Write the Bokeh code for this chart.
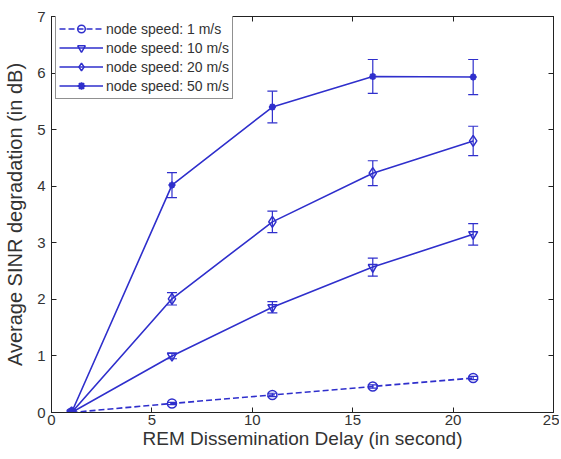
from bokeh.plotting import figure
from bokeh.models import Whisker, TeeHead, ColumnDataSource, LinearAxis, Range1d, FixedTicker, Legend, LegendItem
from bokeh.embed import file_html
from bokeh.resources import INLINE

delay = [1, 6, 11, 16, 21]
series_names = ["node speed: 1 m/s", "node speed: 10 m/s", "node speed: 20 m/s", "node speed: 50 m/s"]
speed1 = [0.0, 0.16, 0.31, 0.46, 0.61]
speed1_err = [0.0, 0.02, 0.03, 0.03, 0.03]
speed10 = [0.0, 1.00, 1.86, 2.57, 3.15]
speed10_err = [0.0, 0.05, 0.10, 0.16, 0.19]
speed20 = [0.0, 2.01, 3.37, 4.23, 4.80]
speed20_err = [0.0, 0.11, 0.19, 0.22, 0.26]
speed50 = [0.0, 4.02, 5.40, 5.94, 5.93]
speed50_err = [0.0, 0.22, 0.28, 0.30, 0.31]
x_ticks = [0, 5, 10, 15, 20, 25]
y_ticks = [0, 1, 2, 3, 4, 5, 6, 7]

BLUE = "#2f2fcc"
FONT = "Liberation Sans"
TXT = "#333333"

p = figure(width=559, height=457, output_backend="svg", toolbar_location=None,
           x_range=Range1d(0, 25), y_range=Range1d(0, 7),
           min_border_left=51, min_border_right=6, min_border_top=16, min_border_bottom=45)
p.background_fill_color = "white"
p.border_fill_color = "white"
p.grid.visible = False
p.outline_line_color = "#222222"
p.outline_line_width = 1

def style_axis(ax):
    ax.major_tick_in = 5
    ax.major_tick_out = 0
    ax.minor_tick_in = 0
    ax.minor_tick_out = 0
    ax.axis_line_color = "#222222"
    ax.major_tick_line_color = "#222222"
    ax.major_label_text_font = FONT
    ax.major_label_text_font_size = "15px"
    ax.major_label_text_color = TXT
    ax.axis_label_text_font = FONT
    ax.axis_label_text_font_style = "normal"
    ax.axis_label_text_color = TXT

p.xaxis.ticker = FixedTicker(ticks=x_ticks)
p.yaxis.ticker = FixedTicker(ticks=y_ticks)
p.xaxis.axis_label = "REM Dissemination Delay (in second)"
p.yaxis.axis_label = "Average SINR degradation (in dB)"
style_axis(p.xaxis[0])
style_axis(p.yaxis[0])
p.xaxis.axis_label_text_font_size = "19px"
p.yaxis.axis_label_text_font_size = "20px"
p.xaxis.major_label_standoff = 2
p.xaxis.axis_label_standoff = 0
p.yaxis.major_label_standoff = 6
p.yaxis.axis_label_standoff = 8

top = LinearAxis(ticker=FixedTicker(ticks=x_ticks), major_label_overrides={t: "" for t in x_ticks})
style_axis(top)
top.major_label_standoff = 0
p.add_layout(top, "above")
right = LinearAxis(ticker=FixedTicker(ticks=y_ticks), major_label_overrides={t: "" for t in y_ticks})
style_axis(right)
right.major_label_standoff = 0
p.add_layout(right, "right")

items = []
specs = [
    (speed1, speed1_err, "circle", 9, "6 3"),
    (speed10, speed10_err, "inverted_triangle", 9, "solid"),
    (speed20, speed20_err, "diamond", 11, "solid"),
    (speed50, speed50_err, "asterisk", 7, "solid"),
]
for name, (vals, errs, marker, size, dash) in zip(series_names, specs):
    src = ColumnDataSource(dict(x=delay, y=vals,
                                lo=[v - e for v, e in zip(vals, errs)],
                                hi=[v + e for v, e in zip(vals, errs)]))
    w = Whisker(source=src, base="x", lower="lo", upper="hi", line_color=BLUE, line_width=1.2,
                upper_head=TeeHead(size=10, line_color=BLUE, line_width=1.2),
                lower_head=TeeHead(size=10, line_color=BLUE, line_width=1.2))
    p.add_layout(w)
    r1 = p.line("x", "y", source=src, line_color=BLUE, line_width=1.6, line_dash=dash)
    if marker == "asterisk":
        r2 = p.scatter("x", "y", source=src, marker="asterisk", size=size, line_color=BLUE, line_width=2)
    else:
        r2 = p.scatter("x", "y", source=src, marker=marker, size=size, line_color=BLUE,
                       fill_color=None, line_width=1.5)
    items.append(LegendItem(label=name, renderers=[r1, r2]))

leg = Legend(items=items, location=(4, 313))
leg.margin = 0
leg.padding = 3
leg.spacing = 0
leg.glyph_width = 44
leg.glyph_height = 19
leg.label_height = 19
leg.label_standoff = 3
leg.label_text_font = FONT
leg.label_text_font_size = "14px"
leg.label_text_color = TXT
leg.border_line_color = "#222222"
leg.border_line_width = 1
leg.background_fill_alpha = 1.0
p.add_layout(leg)

open("out.html", "w").write(file_html(p, INLINE))
